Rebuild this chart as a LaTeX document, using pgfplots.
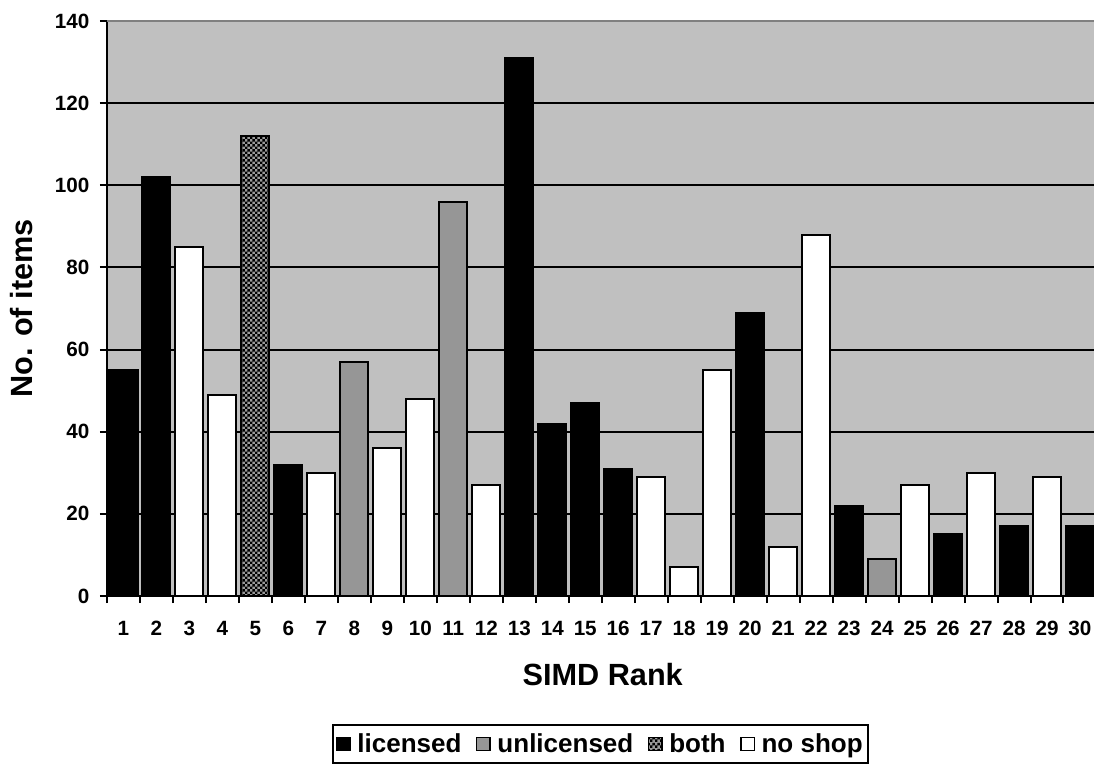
\documentclass[border=0pt]{standalone}
\usepackage{fontspec}
\setmainfont{Liberation Sans}
\usepackage{pgfplots}
\pgfplotsset{compat=1.18}
\usetikzlibrary{patterns}
\definecolor{plotbg}{HTML}{C0C0C0}
\definecolor{unlic}{HTML}{969696}
\definecolor{bothbg}{HTML}{9A9A9A}
\definecolor{frame}{HTML}{808080}
\pgfdeclarepatternformonly{finecheck}{\pgfpointorigin}{\pgfqpoint{4pt}{4pt}}{\pgfqpoint{4pt}{4pt}}{%
  \pgfpathrectangle{\pgfpointorigin}{\pgfqpoint{2pt}{2pt}}%
  \pgfpathrectangle{\pgfqpoint{2pt}{2pt}}{\pgfqpoint{2pt}{2pt}}%
  \pgfusepath{fill}}
\begin{document}
\begin{tikzpicture}
\path[use as bounding box] (-80.25pt,-126pt) rectangle (740.25pt,447pt);
\begin{axis}[
  at={(0,0)}, anchor=south west,
  scale only axis, width=742.1pt, height=431.25pt,
  xmin=0.5, xmax=30.5, ymin=0, ymax=140,
  axis background/.style={fill=plotbg},
  axis x line*=bottom, axis y line*=left,
  axis line style={black, line width=1.5pt},
  ybar, bar width=0.85, bar shift=0pt,
  ytick={0,20,...,140},
  xtick={1,...,30},
  minor xtick={0.5,1.5,...,30.5},
  major x tick style={draw=none},
  minor x tick style={black, line width=1.5pt},
  major y tick style={black, line width=1.5pt},
  tick align=outside,
  major tick length=5.25pt, minor tick length=5.25pt,
  ymajorgrids, major grid style={black, line width=1.5pt},
  /pgf/number format/assume math mode=true,
  ticklabel style={font=\bfseries\fontsize{15.5}{17}\selectfont},
  yticklabel style={xshift=-4.5pt},
  xticklabel style={yshift=-10pt},
  xlabel={SIMD Rank},
  ylabel={No. of items},
  label style={font=\bfseries\fontsize{23}{26}\selectfont},
  xlabel style={at={(axis description cs:0.501,-0.1374)}, anchor=center},
  ylabel style={at={(axis description cs:-0.0859,0.5)}, anchor=center},
  legend columns=4,
  legend style={at={(axis description cs:0.499,-0.2226)}, anchor=north,
    draw=black, line width=1.5pt, inner xsep=2pt, inner ysep=4.5pt,
    font=\bfseries\fontsize{19.5}{22}\selectfont,
    /tikz/every odd column/.append style={column sep=3pt},
    /tikz/every even column/.append style={column sep=9pt}},
  legend image code/.code={\draw[#1, line width=1pt] (0pt,-5pt) rectangle (10pt,5pt);},
]
\addplot[draw=black, fill=black, line width=1.5pt] coordinates {
 (1,55) (2,102) (6,32) (13,131) (14,42) (15,47) (16,31) (20,69) (23,22) (26,15) (28,17) (30,17)};
\addlegendentry{licensed}
\addplot[draw=black, fill=unlic, line width=1.5pt] coordinates {
 (8,57) (11,96) (24,9)};
\addlegendentry{unlicensed}
\addplot[draw=black, fill=bothbg, line width=1.5pt, postaction={pattern=finecheck, pattern color=black}] coordinates {
 (5,112)};
\addlegendentry{both}
\addplot[draw=black, fill=white, line width=1.5pt] coordinates {
 (3,85) (4,49) (7,30) (9,36) (10,48) (12,27) (17,29) (18,7) (19,55) (21,12) (22,88) (25,27) (27,30) (29,29)};
\addlegendentry{no shop}
\draw[frame, line width=1.5pt] (rel axis cs:0,1) -- (rel axis cs:1,1);
\end{axis}
\end{tikzpicture}
\end{document}
